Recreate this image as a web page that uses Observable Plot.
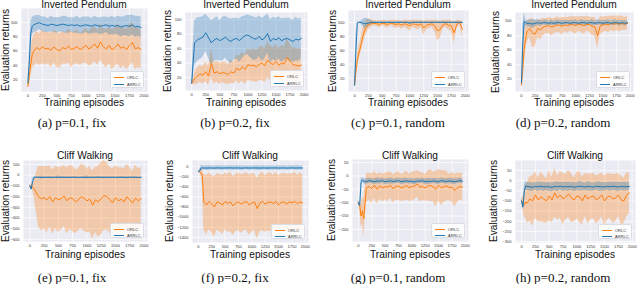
<!DOCTYPE html>
<html><head><meta charset="utf-8">
<script src="https://cdn.jsdelivr.net/npm/d3@7"></script>
<script src="https://cdn.jsdelivr.net/npm/@observablehq/plot@0.6"></script>
<style>
body{margin:0;background:#fff;}
#fig{position:relative;width:640px;height:284px;overflow:hidden;font-family:"Liberation Sans",Arial,sans-serif;background:#fff;}
.t{position:absolute;white-space:nowrap;color:#111;transform:translate(-50%,-50%);line-height:1;}
.s{font-size:10.2px;}
.yl{font-size:10.2px;transform:translate(-50%,-50%) rotate(-90deg);}
.cap{font-family:"Liberation Serif","Times New Roman",serif;font-size:13px;}
.leg{position:absolute;background:rgba(255,255,255,0.85);border:0.5px solid #dcdce4;border-radius:1.5px;box-sizing:border-box;}
.li{position:absolute;left:3px;display:flex;align-items:center;height:5px;font-size:4px;color:#333;white-space:nowrap;}
.sw{display:inline-block;width:10px;height:0;border-top:1.4px solid;margin-right:3px;}
svg{position:absolute;}
</style></head>
<body><div id="fig"></div>
<script>
// ---------- data ----------
const episodes = [0, 25, 50, 75, 100, 150, 200, 250, 300, 350, 400, 450, 500, 550, 600, 650, 700, 750, 800, 850, 900, 950, 1000, 1050, 1100, 1150, 1200, 1250, 1300, 1350, 1400, 1450, 1500, 1550, 1600, 1650, 1700, 1750, 1800, 1850, 1900, 1950];
const xTicks = [0, 250, 500, 750, 1000, 1250, 1500, 1750, 2000];
const ipTicks = [20, 40, 60, 80, 100];
const cwTicksE = [-600, -500, -400, -300, -200, -100, 0, 100];
const cwTicksF = [-1400, -1200, -1000, -800, -600, -400, -200, 0];
const cwTicksG = [-200, -150, -100, -50, 0, 50];
const cwTicksH = [-300, -250, -200, -150, -100, -50, 0, 50];
const seriesNames = ["ORLC", "ARRLC"];

// (a) Inverted Pendulum, p=0.1, fix
const a_ORLC_mean = [10, 25, 42, 55, 60, 65, 62, 66, 63, 64, 61, 66, 62, 60, 65, 63, 67, 62, 64, 66, 62, 65, 68, 63, 66, 70, 64, 73, 66, 63, 68, 62, 65, 70, 64, 66, 62, 68, 72, 63, 65, 62];
const a_ORLC_std  = [2, 12, 18, 20, 22, 23, 22, 24, 23, 22, 24, 23, 25, 24, 23, 22, 24, 25, 23, 24, 22, 23, 25, 24, 26, 25, 24, 26, 25, 27, 26, 28, 27, 28, 29, 27, 28, 30, 28, 29, 28, 27];
const a_ARRLC_mean = [15, 45, 85, 95, 97, 99, 100, 98, 97, 96, 98, 97, 96, 97, 98, 97, 96, 97, 96, 97, 95, 96, 97, 96, 95, 97, 96, 95, 96, 97, 95, 96, 95, 96, 94, 95, 96, 95, 97, 94, 95, 93];
const a_ARRLC_std  = [3, 15, 15, 12, 12, 11, 10, 10, 11, 10, 11, 10, 11, 10, 11, 12, 11, 10, 11, 12, 11, 12, 11, 12, 11, 12, 11, 12, 12, 11, 12, 13, 12, 13, 14, 13, 14, 15, 14, 15, 14, 15];

// (b) Inverted Pendulum, p=0.2, fix
const b_ORLC_mean = [12, 15, 18, 20, 22, 25, 23, 28, 22, 40, 26, 28, 25, 27, 26, 24, 28, 26, 33, 30, 35, 31, 38, 36, 37, 35, 38, 40, 36, 44, 40, 38, 42, 37, 40, 39, 48, 42, 38, 37, 36, 37];
const b_ORLC_std  = [2, 5, 8, 10, 11, 12, 12, 14, 13, 20, 15, 14, 15, 14, 15, 14, 16, 15, 18, 19, 20, 21, 22, 21, 23, 22, 23, 24, 23, 25, 24, 23, 24, 23, 24, 23, 25, 24, 23, 24, 23, 23];
const b_ARRLC_mean = [12, 40, 68, 70, 72, 74, 76, 82, 75, 68, 72, 74, 71, 73, 76, 72, 70, 73, 74, 71, 75, 78, 79, 76, 74, 73, 77, 72, 75, 81, 70, 74, 72, 75, 71, 73, 74, 72, 70, 73, 72, 74];
const b_ARRLC_std  = [2, 20, 30, 31, 30, 29, 28, 26, 28, 31, 29, 30, 28, 30, 29, 30, 31, 29, 28, 30, 29, 27, 28, 29, 30, 29, 28, 30, 29, 27, 30, 29, 30, 29, 30, 29, 28, 30, 29, 30, 29, 28];

// (c) Inverted Pendulum, p=0.1, random
const c_ORLC_mean = [10, 30, 45, 55, 62, 80, 92, 97, 98, 99, 98, 97, 99, 98, 97, 99, 98, 97, 98, 96, 98, 97, 95, 98, 97, 96, 98, 92, 96, 97, 98, 95, 88, 90, 97, 98, 96, 95, 85, 97, 100, 90];
const c_ORLC_std  = [1, 8, 10, 10, 10, 12, 10, 8, 5, 4, 4, 5, 4, 5, 5, 4, 5, 6, 5, 6, 5, 6, 8, 5, 6, 7, 5, 10, 7, 6, 5, 8, 15, 12, 6, 5, 7, 8, 15, 6, 3, 12];
const c_ARRLC_mean = [10, 60, 99, 100, 100, 99, 98, 99, 100, 100, 100, 100, 100, 100, 100, 100, 100, 100, 100, 100, 100, 100, 99, 100, 100, 100, 100, 100, 100, 100, 100, 100, 100, 100, 100, 100, 100, 100, 100, 100, 100, 100];
const c_ARRLC_std  = [1, 25, 2, 1, 1, 5, 8, 6, 3, 1, 1, 1, 1, 1, 1, 1, 1, 1, 1, 1, 1, 1, 2, 1, 1, 1, 1, 1, 1, 1, 1, 1, 1, 1, 1, 1, 1, 1, 1, 1, 1, 1];

// (d) Inverted Pendulum, p=0.2, random
const d_ORLC_mean = [12, 35, 62, 75, 85, 90, 84, 82, 90, 88, 92, 93, 94, 92, 93, 95, 94, 93, 95, 94, 96, 95, 94, 96, 95, 94, 96, 95, 93, 92, 80, 94, 95, 96, 95, 97, 96, 97, 96, 97, 96, 97];
const d_ORLC_std  = [2, 15, 20, 18, 15, 12, 20, 18, 12, 14, 12, 10, 11, 12, 10, 11, 10, 12, 10, 11, 10, 11, 12, 10, 11, 12, 10, 11, 12, 13, 18, 12, 11, 10, 11, 10, 11, 10, 11, 10, 9, 10];
const d_ARRLC_mean = [15, 70, 100, 98, 97, 97, 96, 97, 98, 97, 98, 98, 97, 98, 97, 98, 98, 97, 98, 98, 97, 98, 98, 97, 98, 98, 97, 98, 98, 97, 98, 98, 97, 98, 98, 97, 98, 98, 97, 98, 97, 98];
const d_ARRLC_std  = [3, 25, 12, 4, 4, 5, 6, 5, 4, 4, 3, 4, 3, 4, 3, 4, 3, 4, 3, 3, 4, 3, 4, 3, 4, 3, 4, 3, 4, 3, 4, 3, 4, 3, 4, 3, 4, 3, 4, 3, 4, 3];

// (e) Cliff Walking, p=0.1, fix
const e_ORLC_mean = [-100, -105, -110, -130, -150, -200, -220, -210, -230, -200, -250, -210, -230, -220, -195, -240, -210, -220, -250, -230, -200, -215, -240, -225, -280, -230, -250, -220, -190, -200, -230, -260, -210, -240, -225, -250, -200, -230, -260, -215, -240, -220];
const e_ORLC_std  = [5, 20, 30, 70, 150, 280, 300, 290, 310, 285, 300, 290, 305, 295, 285, 310, 300, 305, 300, 290, 300, 310, 300, 305, 320, 305, 330, 340, 325, 315, 305, 320, 300, 310, 295, 310, 300, 305, 295, 310, 300, 290];
const e_ARRLC_mean = [-100, -130, -60, -22, -20, -20, -22, -20, -21, -20, -22, -20, -21, -20, -20, -22, -20, -21, -20, -22, -20, -21, -20, -22, -20, -21, -20, -20, -22, -20, -21, -20, -22, -20, -21, -20, -22, -20, -21, -20, -22, -20];
const e_ARRLC_std  = [5, 15, 30, 10, 6, 6, 15, 6, 5, 8, 6, 5, 15, 6, 5, 7, 5, 6, 8, 5, 6, 5, 15, 6, 5, 6, 8, 5, 6, 5, 7, 5, 6, 5, 8, 5, 6, 5, 6, 8, 5, 6];

// (f) Cliff Walking, p=0.2, fix
const f_ORLC_mean = [-100, -110, -130, -200, -700, -760, -690, -740, -800, -700, -720, -760, -690, -730, -700, -780, -720, -700, -740, -710, -690, -760, -720, -700, -830, -720, -690, -740, -710, -700, -730, -690, -760, -710, -700, -740, -700, -720, -690, -730, -700, -720];
const f_ORLC_std  = [10, 20, 50, 150, 550, 580, 560, 570, 590, 560, 570, 580, 560, 570, 590, 580, 560, 570, 580, 560, 570, 590, 580, 560, 600, 570, 580, 560, 570, 580, 560, 570, 580, 560, 570, 580, 560, 570, 580, 560, 570, 560];
const f_ARRLC_mean = [-100, -90, -30, -28, -30, -31, -29, -30, -32, -28, -30, -31, -29, -30, -27, -31, -30, -29, -32, -30, -28, -31, -30, -29, -30, -32, -28, -30, -31, -29, -30, -28, -31, -30, -29, -32, -30, -28, -31, -30, -29, -30];
const f_ARRLC_std  = [10, 40, 42, 40, 38, 41, 43, 40, 39, 42, 40, 44, 38, 41, 40, 42, 39, 43, 40, 41, 38, 42, 40, 39, 43, 41, 40, 38, 42, 40, 41, 39, 43, 40, 42, 38, 41, 40, 39, 42, 40, 41];

// (g) Cliff Walking, p=0.1, random
const g_ORLC_mean = [-100, -110, -150, -130, -160, -45, -40, -48, -35, -50, -38, -45, -40, -42, -35, -48, -40, -38, -45, -42, -36, -44, -40, -38, -30, -42, -40, -45, -38, -36, -42, -50, -35, -45, -40, -38, -44, -42, -55, -45, -40, -42];
const g_ORLC_std  = [5, 15, 40, 50, 70, 55, 50, 55, 50, 55, 50, 52, 50, 55, 50, 52, 50, 55, 50, 52, 55, 50, 55, 52, 50, 55, 52, 50, 55, 60, 55, 65, 60, 65, 60, 55, 50, 55, 60, 55, 50, 52];
const g_ARRLC_mean = [-100, -110, -25, -15, -20, -22, -18, -20, -22, -19, -20, -18, -22, -20, -19, -21, -20, -18, -22, -20, -19, -21, -20, -23, -19, -20, -18, -22, -20, -21, -19, -20, -22, -18, -20, -21, -19, -20, -22, -20, -18, -20];
const g_ARRLC_std  = [8, 10, 15, 8, 10, 10, 10, 9, 10, 11, 10, 9, 10, 10, 11, 10, 9, 10, 10, 11, 10, 9, 10, 11, 10, 9, 10, 10, 11, 10, 9, 10, 11, 10, 9, 10, 10, 11, 10, 9, 10, 10];

// (h) Cliff Walking, p=0.2, random
const h_ORLC_mean = [-100, -110, -120, -105, -110, -90, -100, -70, -95, -80, -90, -100, -75, -95, -60, -85, -70, -90, -80, -65, -85, -95, -75, -80, -100, -70, -90, -80, -75, -95, -85, -70, -100, -80, -75, -90, -85, -70, -95, -100, -70, -60];
const h_ORLC_std  = [10, 30, 60, 80, 100, 110, 125, 115, 108, 122, 117, 110, 124, 113, 120, 108, 116, 128, 111, 117, 121, 109, 114, 126, 118, 107, 122, 115, 112, 119, 116, 108, 123, 114, 110, 121, 117, 106, 120, 113, 109, 100];
const h_ARRLC_mean = [-100, -130, -50, -25, -28, -30, -32, -28, -30, -27, -31, -29, -30, -33, -28, -30, -27, -31, -29, -30, -28, -32, -30, -27, -29, -31, -28, -30, -32, -27, -29, -30, -31, -28, -30, -27, -29, -31, -28, -30, -29, -28];
const h_ARRLC_std  = [10, 20, 28, 22, 19, 23, 21, 18, 24, 20, 22, 19, 23, 21, 20, 24, 18, 22, 21, 23, 19, 22, 20, 24, 21, 18, 23, 22, 20, 19, 24, 21, 22, 18, 23, 20, 21, 24, 19, 22, 20, 21];

const titles = ["Inverted Pendulum", "Cliff Walking"];
const captions = ["(a) p=0.1, fix", "(b) p=0.2, fix", "(c) p=0.1, random", "(d) p=0.2, random",
                  "(e) p=0.1, fix", "(f) p=0.2, fix", "(g) p=0.1, random", "(h) p=0.2, random"];
const xLabel = "Training episodes";
const yLabel = "Evaluation returns";

// ---------- layout ----------
const ORANGE = "#ff7f0e", BLUE = "#1f77b4";
const xDomain = [-110, 2060];
const rowY = [
  {title: 5, xlab: 103, cap: 122},
  {title: 156, xlab: 255, cap: 277}
];
const panels = [
  {row:0, frame:[21,147,8,91],   yDomain:[3,120],      yTicks:ipTicks,  o:[a_ORLC_mean,a_ORLC_std], b:[a_ARRLC_mean,a_ARRLC_std], ylx:5.5, capx:72},
  {row:0, frame:[185,307,12,90], yDomain:[2,110],      yTicks:ipTicks,  o:[b_ORLC_mean,b_ORLC_std], b:[b_ARRLC_mean,b_ARRLC_std], ylx:168, capx:235},
  {row:0, frame:[348,468,10,91], yDomain:[1,117],      yTicks:ipTicks,  o:[c_ORLC_mean,c_ORLC_std], b:[c_ARRLC_mean,c_ARRLC_std], ylx:333, capx:398},
  {row:0, frame:[515,633,12,91], yDomain:[3,112],      yTicks:ipTicks,  o:[d_ORLC_mean,d_ORLC_std], b:[d_ARRLC_mean,d_ARRLC_std], ylx:496, capx:563},
  {row:1, frame:[23,147,160,241],  yDomain:[-620,137],  yTicks:cwTicksE, o:[e_ORLC_mean,e_ORLC_std], b:[e_ARRLC_mean,e_ARRLC_std], ylx:6,   capx:72},
  {row:1, frame:[192,308,160,242], yDomain:[-1500,118], yTicks:cwTicksF, o:[f_ORLC_mean,f_ORLC_std], b:[f_ARRLC_mean,f_ARRLC_std], ylx:170, capx:235},
  {row:1, frame:[352,468,159,241], yDomain:[-245,61],   yTicks:cwTicksG, o:[g_ORLC_mean,g_ORLC_std], b:[g_ARRLC_mean,g_ARRLC_std], ylx:332, capx:398},
  {row:1, frame:[515,635,160,242], yDomain:[-305,100],  yTicks:cwTicksH, o:[h_ORLC_mean,h_ORLC_std], b:[h_ARRLC_mean,h_ARRLC_std], ylx:494, capx:563}
];

const fig = document.getElementById("fig");
function addText(cls, txt, x, y) {
  const d = document.createElement("div");
  d.className = "t " + cls;
  d.textContent = txt;
  d.style.left = x + "px"; d.style.top = y + "px";
  fig.appendChild(d);
}
const fmt = d => d < 0 ? "\u2212" + (-d) : String(d);

panels.forEach((p, k) => {
  const [x0, x1, y0, y1] = p.frame;
  const ml = 22, mr = 3, mt = 3, mb = 10;
  const rows = episodes.map((x, i) => ({
    x,
    om: p.o[0][i], olo: p.o[0][i] - p.o[1][i], ohi: p.o[0][i] + p.o[1][i],
    bm: p.b[0][i], blo: p.b[0][i] - p.b[1][i], bhi: p.b[0][i] + p.b[1][i]
  }));
  const svg = Plot.plot({
    width: x1 - x0 + ml + mr, height: y1 - y0 + mt + mb,
    marginLeft: ml, marginRight: mr, marginTop: mt, marginBottom: mb,
    x: {domain: xDomain}, y: {domain: p.yDomain},
    style: {background: "transparent", fontFamily: "'Liberation Sans', Arial, sans-serif", overflow: "visible"},
    marks: [
      Plot.frame({fill: "#eaeaf2", stroke: null}),
      Plot.gridX(xTicks, {stroke: "white", strokeOpacity: 1, strokeWidth: 0.7}),
      Plot.gridY(p.yTicks, {stroke: "white", strokeOpacity: 1, strokeWidth: 0.7}),
      Plot.areaY(rows, {x: "x", y1: "olo", y2: "ohi", fill: ORANGE, fillOpacity: 0.3, clip: true}),
      Plot.areaY(rows, {x: "x", y1: "blo", y2: "bhi", fill: BLUE, fillOpacity: 0.3, clip: true}),
      Plot.lineY(rows, {x: "x", y: "om", stroke: ORANGE, strokeWidth: 1, clip: true}),
      Plot.lineY(rows, {x: "x", y: "bm", stroke: BLUE, strokeWidth: 1, clip: true}),
      Plot.axisX(xTicks, {tickSize: 0, tickPadding: 2.5, fontSize: 4, label: null, tickFormat: fmt, fill: "#333"}),
      Plot.axisY(p.yTicks, {tickSize: 0, tickPadding: 4, fontSize: 4, label: null, tickFormat: fmt, fill: "#333"})
    ]
  });
  svg.style.left = (x0 - ml) + "px";
  svg.style.top = (y0 - mt) + "px";
  fig.appendChild(svg);

  const r = rowY[p.row];
  const cx = (x0 + x1) / 2;
  addText("s", titles[p.row], cx, r.title);
  addText("s", xLabel, cx, r.xlab);
  addText("yl", yLabel, p.ylx, (y0 + y1) / 2);
  addText("cap", captions[k], p.capx, r.cap);

  // legend
  const lw = 34, lh = p.row === 0 ? 17 : 15;
  const leg = document.createElement("div");
  leg.className = "leg";
  leg.style.left = (x1 - 3 - lw) + "px";
  leg.style.top = (y1 - 3 - lh) + "px";
  leg.style.width = lw + "px"; leg.style.height = lh + "px";
  [ORANGE, BLUE].forEach((c, j) => {
    const li = document.createElement("div");
    li.className = "li";
    li.style.top = (p.row === 0 ? 3 + j * 7 : 2.5 + j * 6) + "px";
    li.innerHTML = `<span class="sw" style="border-top-color:${c}"></span><span>${seriesNames[j]}</span>`;
    leg.appendChild(li);
  });
  fig.appendChild(leg);
});
</script></body></html>
